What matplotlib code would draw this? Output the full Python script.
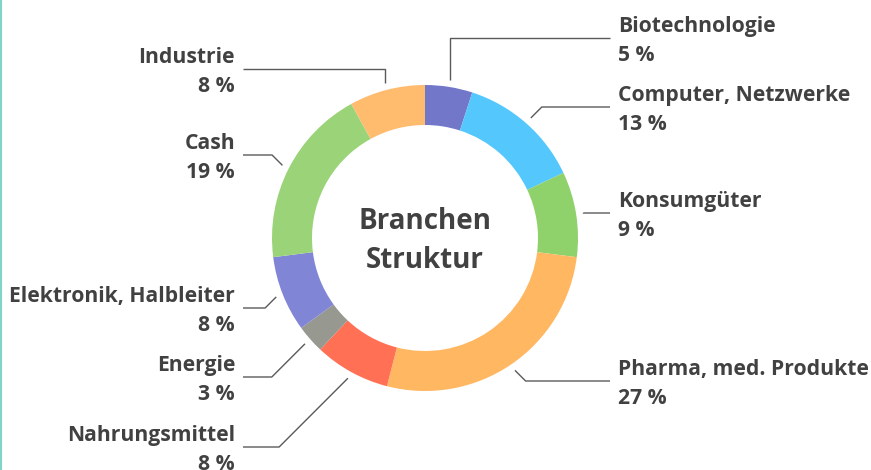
import numpy as np
import matplotlib
matplotlib.use("Agg")
import matplotlib.pyplot as plt
from matplotlib.lines import Line2D

categories = ["Biotechnologie", "Computer, Netzwerke", "Konsumgüter",
              "Pharma, med. Produkte", "Nahrungsmittel", "Energie",
              "Elektronik, Halbleiter", "Cash", "Industrie"]
values = [5, 13, 9, 27, 8, 3, 8, 19, 8]
colors = ["#7277c9", "#54c8fc", "#8fd16a", "#ffb762", "#ff7055",
          "#979890", "#8085d6", "#9bd478", "#ffbb6e"]
center_title = "Branchen\nStruktur"

# layout (pixel units, y measured from top)
W, H = 871, 470
cx, cy_top = 425, 238
R, ring = 153, 40
anchor_r = 160
label_line_y = [38, 107, 213, 381, 447, 377, 308, 155, 69]
text_shift = 3
right_end, left_end = 610, 243
right_text, left_text = 618, 235
text_color = "#414141"
line_color = "#5a5a5a"

plt.rcParams['font.family'] = ['Open Sans', 'DejaVu Sans']

fig = plt.figure(figsize=(W / 100, H / 100), dpi=100)
ax = fig.add_axes([0, 0, 1, 1])
cy = H - cy_top

wedges, _ = ax.pie(values, colors=colors, startangle=90, counterclock=False,
                   radius=R, center=(cx, cy),
                   wedgeprops=dict(width=ring, edgecolor='none'))

ax.set_xlim(0, W)
ax.set_ylim(0, H)
ax.set_aspect('equal')
ax.axis('off')

for w, name, v, ly_top in zip(wedges, categories, values, label_line_y):
    mid = np.deg2rad((w.theta1 + w.theta2) / 2)
    ax_x = cx + anchor_r * np.cos(mid)
    ax_y = cy + anchor_r * np.sin(mid)
    ly = H - ly_top
    right = np.cos(mid) >= 0
    sgn = 1 if right else -1
    dy = ly - ax_y
    if abs(np.cos(mid)) < 0.3:
        ex = ax_x
    else:
        ex = ax_x + sgn * abs(dy)
    xend = right_end if right else left_end
    ax.plot([ax_x, ex, xend], [ax_y, ly, ly], color=line_color, lw=1.0,
            solid_capstyle='butt')
    ty = ly - text_shift
    if right:
        ax.text(right_text, ty, f"{name}\n{v} %", ha='left', va='center',
                fontsize=15.2, fontweight='bold', color=text_color,
                linespacing=1.47)
    else:
        ax.text(left_text, ty, f"{name}\n{v} %", ha='right', va='center',
                fontsize=15.2, fontweight='bold', color=text_color,
                linespacing=1.47, multialignment='right')

ax.text(cx, cy - 3, center_title, ha='center', va='center', fontsize=20,
        fontweight='bold', color=text_color, linespacing=1.45)

fig.add_artist(Line2D([0.8 / W, 0.8 / W], [0, 1], color="#7fd6c6", lw=1.5,
                      transform=fig.transFigure))

fig.savefig("out.png", dpi=100, facecolor="white")
